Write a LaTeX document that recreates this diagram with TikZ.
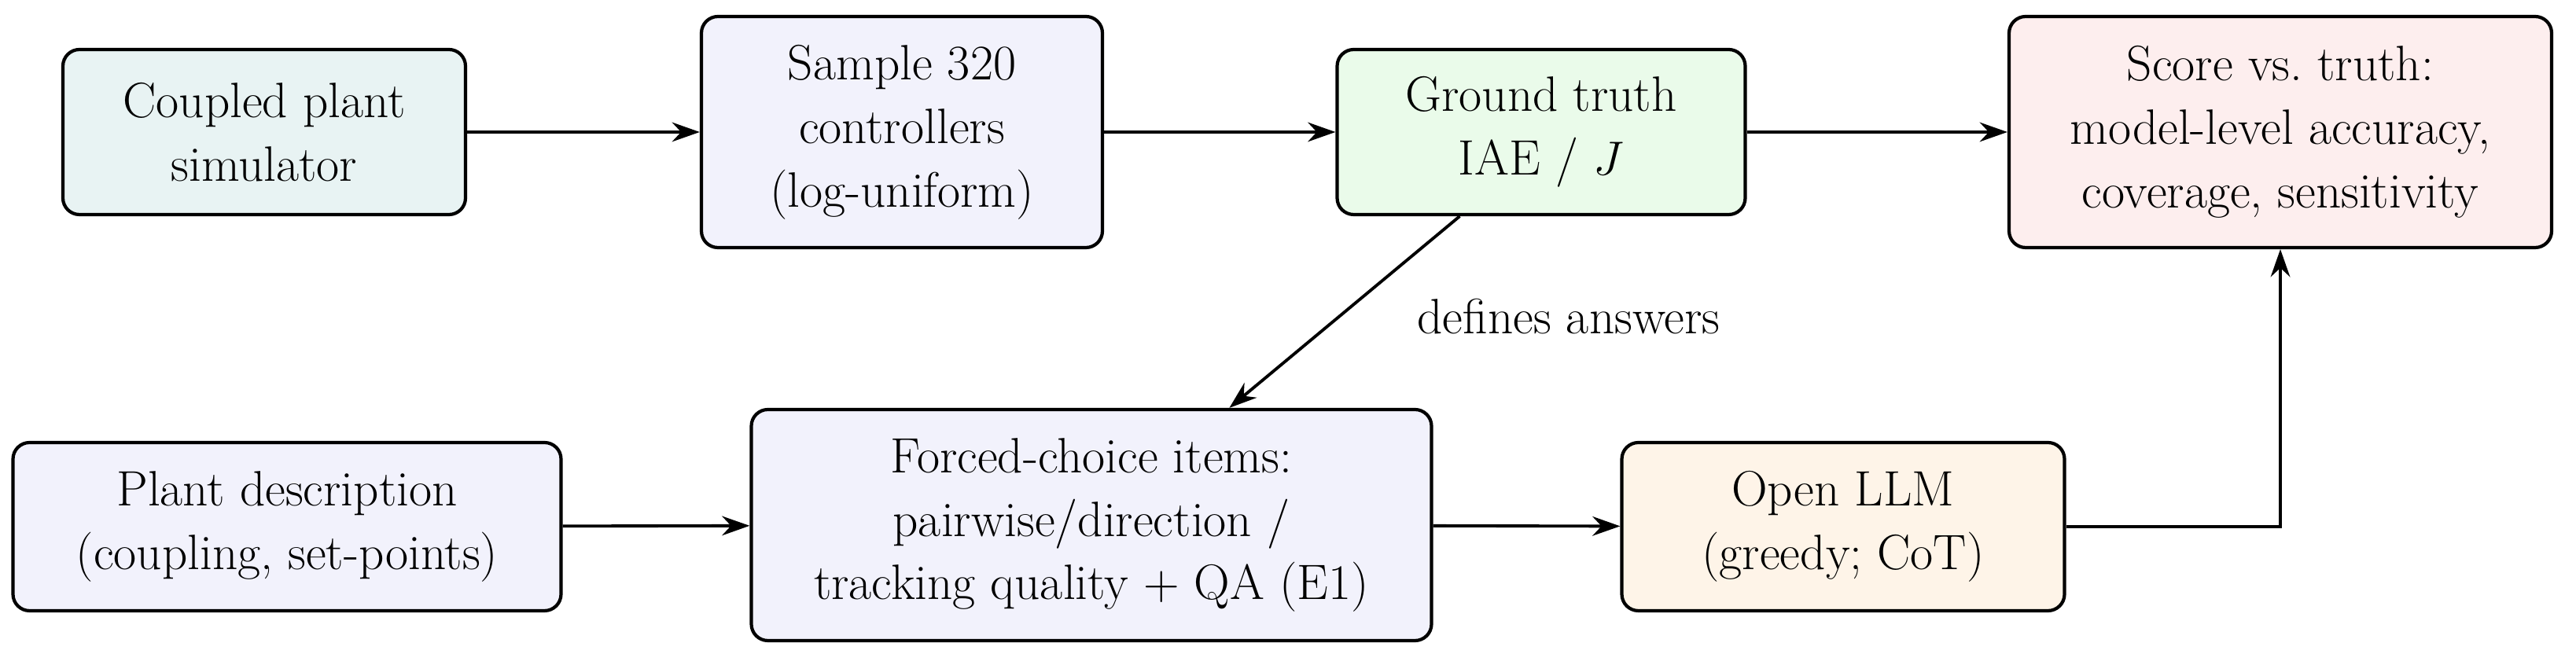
\documentclass[tikz,border=0pt]{standalone}
\usetikzlibrary{arrows.meta,positioning}
\definecolor{cteal}{HTML}{E8F3F3}
\definecolor{clav}{HTML}{F2F2FC}
\definecolor{cgreen}{HTML}{EAFBEA}
\definecolor{cpink}{HTML}{FDEEEE}
\definecolor{corange}{HTML}{FEF4E8}
\begin{document}
\begin{tikzpicture}[
  box/.style={draw=black, line width=1.2pt, rounded corners=6pt, align=center,
    font=\fontsize{18}{23}\selectfont, inner sep=0pt},
  arr/.style={-{Stealth[length=10pt,width=7pt]}, line width=1.1pt}
]
\useasboundingbox (0,0) rectangle (32.76,8.32);
\node[box, fill=cteal, minimum width=5.12cm, minimum height=2.1cm] (sim) at (3.36,6.64) {Coupled plant\\simulator};
\node[box, fill=clav, minimum width=5.1cm, minimum height=2.94cm] (samp) at (11.47,6.64) {Sample 320\\controllers\\(log-uniform)};
\node[box, fill=cgreen, minimum width=5.19cm, minimum height=2.1cm] (gt) at (19.6,6.64) {Ground truth\\IAE / $J$};
\node[box, fill=cpink, minimum width=6.9cm, minimum height=2.94cm] (score) at (29.0,6.64) {Score vs.\ truth:\\model-level accuracy,\\coverage, sensitivity};
\node[box, fill=clav, minimum width=6.97cm, minimum height=2.14cm] (desc) at (3.65,1.62) {Plant description\\(coupling, set-points)};
\node[box, fill=clav, minimum width=8.65cm, minimum height=2.94cm] (fc) at (13.88,1.64) {Forced-choice items:\\pairwise/direction /\\tracking quality + QA (E1)};
\node[box, fill=corange, minimum width=5.63cm, minimum height=2.14cm] (llm) at (23.44,1.62) {Open LLM\\(greedy; CoT)};
\coordinate (gs) at ([xshift=1.58cm]gt.south west);
\coordinate (ft) at ([xshift=6.1cm]fc.north west);
\draw[arr] (sim) -- (samp);
\draw[arr] (samp) -- (gt);
\draw[arr] (gt) -- (score);
\draw[arr] (gs) -- (ft);
\node[font=\fontsize{18}{23}\selectfont] (lab) at (19.95,4.29) {defines answers};
\draw[arr] (desc) -- (fc);
\draw[arr] (fc) -- (llm);
\draw[arr] (llm.east) -| (score.south);
\end{tikzpicture}
\end{document}
